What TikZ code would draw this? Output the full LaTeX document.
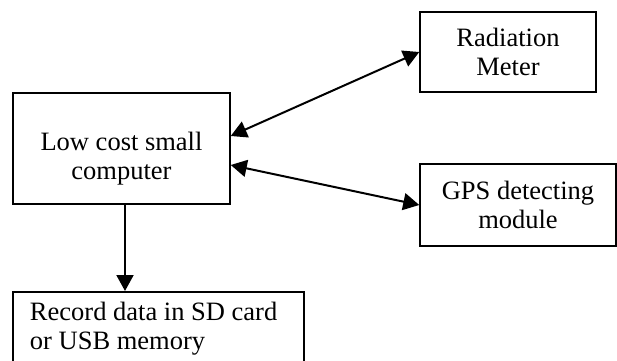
\documentclass[tikz,border=0pt]{standalone}
\usepackage{fontspec}
\setmainfont{Liberation Serif}
\usepackage{tikz}
\usetikzlibrary{arrows.meta,positioning,calc}
\tikzset{
  blockbox/.style={draw=black,line width=.75pt,align=center,inner sep=2pt,
    font=\fontsize{13.25pt}{14.5pt}\selectfont},
  boxtext/.style={align=center,inner sep=0pt,font=\fontsize{13.25pt}{14.5pt}\selectfont},
  recordbox/.style={blockbox,anchor=north,align=justify,text width=128.5pt,
    inner xsep=8.5pt,inner ysep=5pt},
  link/.style={{Triangle[length=8pt,width=8.5pt]}-{Triangle[length=8pt,width=8.5pt]},line width=1pt,draw=black},
  linkone/.style={-{Triangle[length=8pt,width=8.5pt]},line width=1pt,draw=black}
}
\begin{document}
\begin{tikzpicture}[x=.5pt,y=-.5pt]
\path[use as bounding box,clip] (0,0) rectangle (617,360);

\node[blockbox,minimum width=108.5pt,minimum height=55.5pt,
  label={[boxtext,yshift=-5pt]center:Low cost small\\computer}] (comp) at (121.5,148.5) {};
\node[blockbox,minimum width=88pt,minimum height=40pt] (rad) at (508,52) {Radiation\\Meter};
\node[blockbox,minimum width=98pt,minimum height=41pt] (gps) at (518,205) {GPS detecting\\module};
\node[recordbox] (rec) at (158.5,291) {Record data in SD card\\or USB memory};

\draw[link] ([yshift=6.25pt]comp.east)--(rad.west);
\draw[link] ([yshift=-8.25pt]comp.east)--(gps.west);
\draw[linkone] ([xshift=1.75pt]comp.south)--([xshift=1.75pt]comp.south |- rec.north);
\end{tikzpicture}
\end{document}
